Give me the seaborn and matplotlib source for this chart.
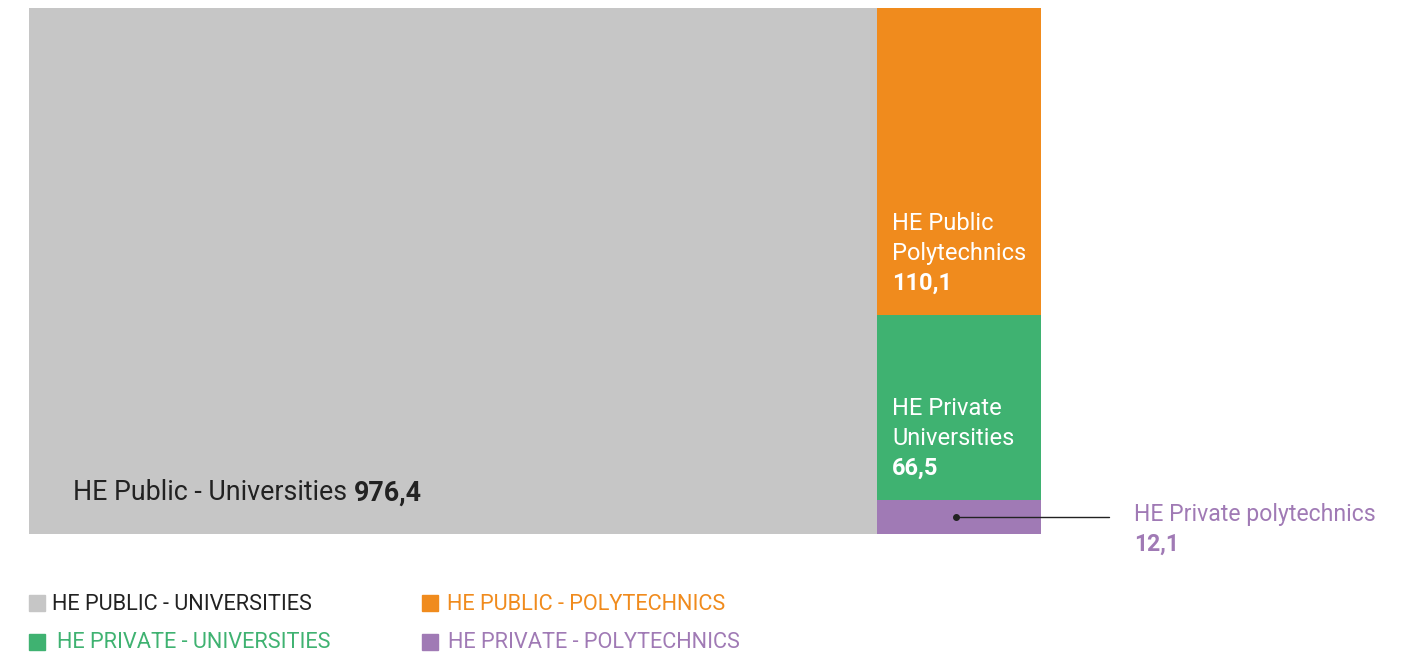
import matplotlib.pyplot as plt
import seaborn as sns
from matplotlib.patches import Rectangle

# === Data ===
categories = ['HE Public - Universities', 'HE Public - Polytechnics',
              'HE Private - Universities', 'HE Private - Polytechnics']
short_labels = ['HE Public - Universities', 'HE Public\nPolytechnics',
                'HE Private\nUniversities', 'HE Private polytechnics']
values = [976.4, 110.1, 66.5, 12.1]
value_labels = ['976,4', '110,1', '66,5', '12,1']
legend_labels = ['HE PUBLIC - UNIVERSITIES', 'HE PUBLIC - POLYTECHNICS',
                 'HE PRIVATE - UNIVERSITIES', 'HE PRIVATE - POLYTECHNICS']
colors = ['#c6c6c6', '#f08b1d', '#3fb271', '#a07ab5']

sns.set_style('white')
plt.rcParams['font.family'] = ['Roboto', 'DejaVu Sans']

fig = plt.figure(figsize=(14.14, 6.57), dpi=100)
W, H = 1414, 657
ax = fig.add_axes([29 / W, 1 - 534 / H, 1012 / W, 526 / H])

total = sum(values)
right_total = sum(values[1:])

# big block on the left
ax.bar(0, 1, width=values[0], align='edge', color=colors[0], linewidth=0)

# right column stacked from the top
top = 1.0
rects = []
for v, c in zip(values[1:], colors[1:]):
    h = v / right_total
    ax.bar(values[0], h, width=right_total, bottom=top - h, align='edge',
           color=c, linewidth=0)
    rects.append((top - h, h))
    top -= h

ax.set_xlim(0, total)
ax.set_ylim(0, 1)
ax.axis('off')

# === Labels ===
big_fs = 19.3
t = ax.annotate(short_labels[0] + ' ', (0, 0), xytext=(44, 41),
                textcoords='offset pixels', fontsize=big_fs, color='#222222',
                ha='left', va='center')
fig.canvas.draw()
bb = t.get_window_extent()
x_px = bb.x1 - ax.transData.transform((0, 0))[0]
ax.annotate(value_labels[0], (0, 0), xytext=(x_px, 41),
            textcoords='offset pixels', fontsize=big_fs, fontweight='bold',
            color='#222222', ha='left', va='center')

for i in (1, 2):
    bottom, h = rects[i - 1]
    lines = short_labels[i].split('\n')
    for j, line in enumerate(lines):
        ax.annotate(line, (values[0], bottom), xytext=(15, 85 - 30 * j),
                    textcoords='offset pixels', fontsize=17, color='white',
                    ha='left', va='baseline')
    ax.annotate(value_labels[i], (values[0], bottom), xytext=(15, 25),
                textcoords='offset pixels', fontsize=17, fontweight='bold',
                color='white', ha='left', va='baseline')

# purple callout
bottom, h = rects[2]
y_mid = bottom + h / 2
x_dot = values[0] + right_total * 0.48
ax.plot([x_dot, total * 1.067], [y_mid, y_mid], color='#222222', lw=1,
        clip_on=False)
ax.plot([x_dot], [y_mid], 'o', color='#222222', ms=4, clip_on=False)
ax.annotate(short_labels[3], (total, y_mid), xytext=(93, 3),
            textcoords='offset pixels', fontsize=16.6, color=colors[3],
            ha='left', va='center', annotation_clip=False)
ax.annotate(value_labels[3], (total, y_mid), xytext=(93, -27),
            textcoords='offset pixels', fontsize=16.6, fontweight='bold',
            color=colors[3], ha='left', va='center', annotation_clip=False)

# === Legend ===
legend_pos = [(29, 603), (422, 603), (29, 642), (422, 642)]
text_dx = [23, 25, 28, 26]
text_colors = ['#222222', colors[1], colors[2], colors[3]]
for (px, py), lab, c, tc, dx in zip(legend_pos, legend_labels, colors,
                                     text_colors, text_dx):
    fig.patches.append(Rectangle((px / W, 1 - (py + 8) / H), 16 / W, 16 / H,
                                 transform=fig.transFigure, color=c,
                                 figure=fig))
    fig.text((px + dx) / W, 1 - (py + 1) / H, lab, fontsize=15.7, color=tc,
             ha='left', va='center')

plt.savefig('out.png', dpi=100)
